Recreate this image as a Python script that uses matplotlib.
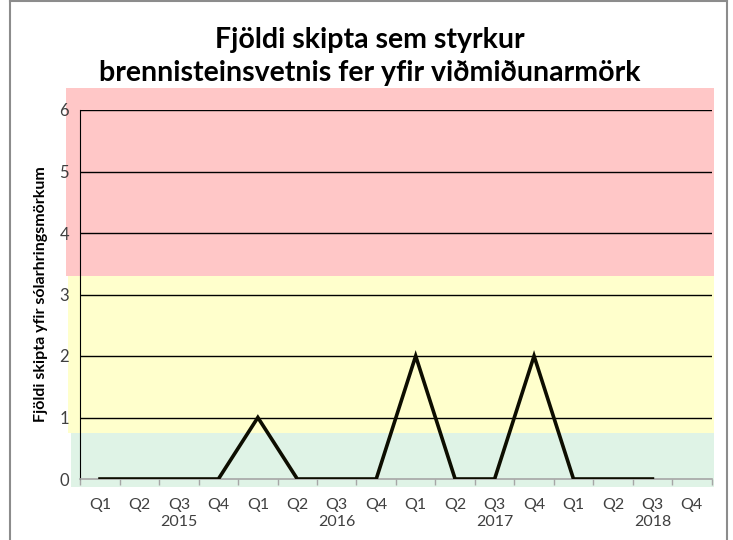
import matplotlib.pyplot as plt
from matplotlib.patches import Rectangle
from matplotlib.lines import Line2D

# quarterly counts, 2015 Q1 .. 2018 Q4 (last quarter has no value)
quarters = ['Q1', 'Q2', 'Q3', 'Q4'] * 4
years = ['2015', '2016', '2017', '2018']
counts = [0, 0, 0, 0, 1, 0, 0, 0, 2, 0, 0, 2, 0, 0, 0]

# background zones (lower, upper, colour)
zones = [(-0.13, 0.75, '#dff3e6'), (0.75, 3.3, '#ffffcc'), (3.3, 6.36, '#ffc7c7')]

plt.rcParams['font.family'] = ['Lato', 'DejaVu Sans']

fig = plt.figure(figsize=(7.33, 5.40), dpi=100)
ax = fig.add_axes([80.3 / 733, 1 - 479 / 540, (711.6 - 80.3) / 733, (479 - 110) / 540])

ax.set_xlim(-0.5, 15.5)
ax.set_ylim(0, 6)

# zones reach a little past the axes, like the original
lefts = [-0.73, -0.8, -0.85]
for (lo, hi, c), xl in zip(zones, lefts):
    ax.add_patch(Rectangle((xl, lo), 15.55 - xl, hi - lo, facecolor=c,
                           edgecolor='none', clip_on=False, zorder=0))

for v in range(1, 7):
    ax.axhline(v, color='black', lw=1, zorder=1)

ax.plot(range(len(counts)), counts, color='#0d0d00', lw=2.6, zorder=3,
        solid_joinstyle='miter')

ax.set_yticks(range(0, 7))
ax.tick_params(axis='y', length=0, labelsize=12, labelcolor='#404040', pad=8)
ax.set_xticks(range(16))
ax.set_xticklabels(quarters)
ax.tick_params(axis='x', length=0, labelsize=11.5, labelcolor='#404040', pad=14)
ax.set_xticks([k - 0.5 for k in range(17)], minor=True)
ax.tick_params(axis='x', which='minor', length=4, color='#a6a6a6', width=1)

for i, y in enumerate(years):
    ax.text(4 * i + 2, -0.7, y, ha='center', va='center', fontsize=11.5,
            color='#404040')

for s in ['top', 'right']:
    ax.spines[s].set_visible(False)
ax.spines['left'].set_color('black')
ax.spines['bottom'].set_color('#a6a6a6')
ax.spines['bottom'].set_linewidth(1.2)

ax.set_ylabel('Fjöldi skipta yfir sólarhringsmörkum', fontsize=11.5,
              fontweight='bold', labelpad=8)

fig.text(370 / 733, 1 - 40 / 540, 'Fjöldi skipta sem styrkur', ha='center',
         va='center', fontsize=20.5, fontweight='bold')
fig.text(370 / 733, 1 - 73 / 540, 'brennisteinsvetnis fer yfir viðmiðunarmörk',
         ha='center', va='center', fontsize=20.5, fontweight='bold')

# frame of the chart
for xs, ys in [([10, 10], [0, 540]), ([727, 727], [0, 540]), ([10, 727], [1, 1])]:
    fig.add_artist(Line2D([x / 733 for x in xs], [1 - y / 540 for y in ys],
                          color='#8c8c8c', lw=1.5))

fig.savefig('out.png', dpi=100)
